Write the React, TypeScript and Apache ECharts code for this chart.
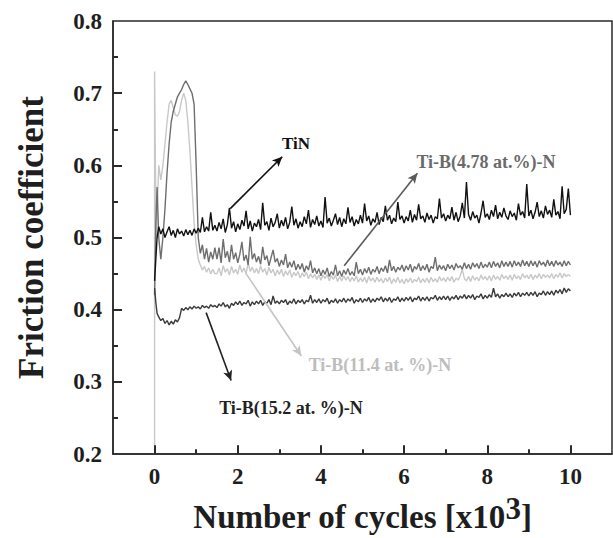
import React, { useEffect, useRef } from "react";
import * as echarts from "echarts";

// x values in units of 10^3 cycles
const EARLY_X = [0, 0.03, 0.06, 0.1, 0.15, 0.2, 0.25, 0.3, 0.35, 0.4, 0.45, 0.5, 0.55, 0.6, 0.65, 0.7, 0.75, 0.8, 0.85, 0.9, 0.95, 1.0, 1.05, 1.1, 1.15, 1.2, 1.25, 1.3, 1.35, 1.4, 1.45];
const TAIL_X = [
  1.5, 1.55, 1.6, 1.65, 1.7, 1.75, 1.8, 1.85, 1.9, 1.95,
  2.0, 2.05, 2.1, 2.15, 2.2, 2.25, 2.3, 2.35, 2.4, 2.45,
  2.5, 2.55, 2.6, 2.65, 2.7, 2.75, 2.8, 2.85, 2.9, 2.95,
  3.0, 3.05, 3.1, 3.15, 3.2, 3.25, 3.3, 3.35, 3.4, 3.45,
  3.5, 3.55, 3.6, 3.65, 3.7, 3.75, 3.8, 3.85, 3.9, 3.95,
  4.0, 4.05, 4.1, 4.15, 4.2, 4.25, 4.3, 4.35, 4.4, 4.45,
  4.5, 4.55, 4.6, 4.65, 4.7, 4.75, 4.8, 4.85, 4.9, 4.95,
  5.0, 5.05, 5.1, 5.15, 5.2, 5.25, 5.3, 5.35, 5.4, 5.45,
  5.5, 5.55, 5.6, 5.65, 5.7, 5.75, 5.8, 5.85, 5.9, 5.95,
  6.0, 6.05, 6.1, 6.15, 6.2, 6.25, 6.3, 6.35, 6.4, 6.45,
  6.5, 6.55, 6.6, 6.65, 6.7, 6.75, 6.8, 6.85, 6.9, 6.95,
  7.0, 7.05, 7.1, 7.15, 7.2, 7.25, 7.3, 7.35, 7.4, 7.45,
  7.5, 7.55, 7.6, 7.65, 7.7, 7.75, 7.8, 7.85, 7.9, 7.95,
  8.0, 8.05, 8.1, 8.15, 8.2, 8.25, 8.3, 8.35, 8.4, 8.45,
  8.5, 8.55, 8.6, 8.65, 8.7, 8.75, 8.8, 8.85, 8.9, 8.95,
  9.0, 9.05, 9.1, 9.15, 9.2, 9.25, 9.3, 9.35, 9.4, 9.45,
  9.5, 9.55, 9.6, 9.65, 9.7, 9.75, 9.8, 9.85, 9.9, 9.95,
  10.0,
];

// TiN
const TIN_EARLY = [0.44, 0.47, 0.5, 0.515, 0.505, 0.512, 0.5, 0.508, 0.515, 0.503, 0.51, 0.5, 0.512, 0.505, 0.509, 0.502, 0.511, 0.504, 0.51, 0.503, 0.512, 0.506, 0.513, 0.507, 0.528, 0.508, 0.515, 0.509, 0.535, 0.51, 0.517];
const TIN_TAIL = [
  0.509, 0.521, 0.512, 0.526, 0.507, 0.518, 0.541, 0.513, 0.522, 0.508,
  0.519, 0.511, 0.524, 0.516, 0.537, 0.512, 0.523, 0.509, 0.52, 0.515,
  0.525, 0.511, 0.548, 0.517, 0.522, 0.51, 0.527, 0.515, 0.521, 0.533,
  0.513, 0.524, 0.516, 0.528, 0.512, 0.521, 0.543, 0.517, 0.526, 0.513,
  0.522, 0.515, 0.529, 0.519, 0.538, 0.514, 0.525, 0.518, 0.53, 0.516,
  0.523, 0.514, 0.556, 0.52, 0.527, 0.516, 0.524, 0.533, 0.518, 0.528,
  0.515, 0.526, 0.519, 0.542, 0.521, 0.529, 0.516, 0.525, 0.519, 0.531,
  0.52, 0.547, 0.523, 0.53, 0.517, 0.526, 0.521, 0.535, 0.518, 0.528,
  0.522, 0.544, 0.524, 0.531, 0.519, 0.527, 0.522, 0.549, 0.525, 0.53,
  0.52, 0.529, 0.523, 0.538, 0.521, 0.532, 0.524, 0.546, 0.526, 0.53,
  0.521, 0.534, 0.525, 0.531, 0.52, 0.529, 0.526, 0.554, 0.527, 0.533,
  0.523, 0.531, 0.526, 0.542, 0.524, 0.535, 0.522, 0.53, 0.548, 0.527,
  0.577, 0.532, 0.524, 0.536, 0.527, 0.531, 0.52, 0.534, 0.551, 0.528,
  0.533, 0.525, 0.538, 0.529, 0.545, 0.526, 0.535, 0.528, 0.541, 0.53,
  0.525, 0.537, 0.529, 0.534, 0.524, 0.547, 0.531, 0.536, 0.527, 0.574,
  0.53, 0.538, 0.526, 0.535, 0.549, 0.529, 0.537, 0.527, 0.544, 0.532,
  0.538, 0.528, 0.553, 0.531, 0.536, 0.526, 0.571, 0.533, 0.539, 0.568,
  0.531,
];

// Ti-B(4.78 at.%)-N
const B478_EARLY = [0.42, 0.52, 0.57, 0.5, 0.47, 0.5, 0.54, 0.59, 0.63, 0.66, 0.675, 0.685, 0.695, 0.7, 0.705, 0.712, 0.717, 0.712, 0.706, 0.7, 0.685, 0.6, 0.5, 0.478, 0.49, 0.47, 0.485, 0.466, 0.48, 0.47, 0.486];
const B478_TAIL = [
  0.47, 0.486, 0.465, 0.498, 0.472, 0.481, 0.466, 0.49, 0.47, 0.479,
  0.465, 0.477, 0.494, 0.468, 0.476, 0.462, 0.501, 0.47, 0.478, 0.466,
  0.474, 0.463, 0.487, 0.469, 0.475, 0.461, 0.472, 0.483, 0.466, 0.471,
  0.46, 0.469, 0.462, 0.477, 0.458, 0.466, 0.459, 0.468, 0.455, 0.463,
  0.456, 0.464, 0.452, 0.461, 0.455, 0.468, 0.451, 0.458, 0.45, 0.457,
  0.447, 0.455, 0.449, 0.458, 0.446, 0.453, 0.448, 0.462, 0.447, 0.454,
  0.446, 0.455, 0.449, 0.457, 0.448, 0.453, 0.447, 0.466, 0.45, 0.456,
  0.448, 0.457, 0.451, 0.459, 0.449, 0.456, 0.452, 0.46, 0.45, 0.458,
  0.453, 0.461, 0.451, 0.469, 0.454, 0.46, 0.452, 0.459, 0.455, 0.462,
  0.453, 0.461, 0.455, 0.463, 0.452, 0.46, 0.456, 0.464, 0.454, 0.461,
  0.455, 0.463, 0.452, 0.46, 0.457, 0.473, 0.454, 0.462, 0.456, 0.461,
  0.454, 0.463, 0.457, 0.462, 0.455, 0.464, 0.458, 0.461, 0.456, 0.465,
  0.457, 0.463, 0.456, 0.465, 0.459, 0.464, 0.457, 0.466, 0.458, 0.463,
  0.459, 0.466, 0.458, 0.467, 0.46, 0.465, 0.458, 0.468, 0.46, 0.466,
  0.46, 0.467, 0.459, 0.468, 0.461, 0.466, 0.46, 0.469, 0.461, 0.467,
  0.46, 0.468, 0.461, 0.467, 0.459, 0.468, 0.462, 0.466, 0.46, 0.469,
  0.461, 0.467, 0.46, 0.468, 0.462, 0.466, 0.46, 0.468, 0.461, 0.467,
  0.462,
];

// Ti-B(11.4 at. %)-N
const B114_EARLY_X = [0, 0, 0.02, 0.04, 0.07, 0.1, 0.15, 0.2, 0.25, 0.3, 0.35, 0.4, 0.45, 0.5, 0.55, 0.6, 0.65, 0.7, 0.75, 0.8, 0.85, 0.9, 0.95, 1.0, 1.05, 1.1, 1.15, 1.2, 1.25, 1.3, 1.35, 1.4, 1.45];
const B114_EARLY = [0.2, 0.73, 0.6, 0.5, 0.55, 0.6, 0.58, 0.6, 0.63, 0.66, 0.685, 0.69, 0.68, 0.67, 0.668, 0.675, 0.69, 0.7, 0.69, 0.66, 0.62, 0.57, 0.52, 0.49, 0.47, 0.462, 0.455, 0.46, 0.452, 0.458, 0.45, 0.456, 0.45];
const B114_TAIL = [
  0.45, 0.458, 0.447, 0.461, 0.452, 0.457, 0.448, 0.46, 0.451, 0.456,
  0.449, 0.462, 0.452, 0.458, 0.45, 0.465, 0.453, 0.459, 0.451, 0.457,
  0.45, 0.461, 0.452, 0.457, 0.448, 0.459, 0.451, 0.456, 0.447, 0.455,
  0.449, 0.456, 0.446, 0.454, 0.448, 0.455, 0.445, 0.452, 0.447, 0.453,
  0.444, 0.451, 0.446, 0.452, 0.443, 0.45, 0.444, 0.449, 0.442, 0.448,
  0.441, 0.448, 0.443, 0.449, 0.44, 0.447, 0.442, 0.448, 0.439, 0.446,
  0.44, 0.447, 0.441, 0.446, 0.439, 0.445, 0.44, 0.447, 0.438, 0.444,
  0.439, 0.445, 0.437, 0.446, 0.44, 0.444, 0.438, 0.445, 0.439, 0.443,
  0.437, 0.444, 0.439, 0.445, 0.436, 0.443, 0.438, 0.445, 0.437, 0.442,
  0.436, 0.443, 0.438, 0.444, 0.437, 0.442, 0.439, 0.445, 0.437, 0.443,
  0.438, 0.444, 0.437, 0.445, 0.439, 0.443, 0.438, 0.446, 0.44, 0.444,
  0.439, 0.445, 0.44, 0.446, 0.438, 0.444, 0.441, 0.447, 0.456, 0.443,
  0.44, 0.446, 0.439, 0.447, 0.441, 0.445, 0.44, 0.448, 0.442, 0.446,
  0.441, 0.447, 0.44, 0.448, 0.442, 0.446, 0.441, 0.449, 0.443, 0.447,
  0.442, 0.448, 0.441, 0.449, 0.443, 0.447, 0.442, 0.45, 0.444, 0.448,
  0.443, 0.449, 0.442, 0.448, 0.444, 0.45, 0.443, 0.449, 0.445, 0.448,
  0.444, 0.45, 0.443, 0.449, 0.445, 0.451, 0.444, 0.45, 0.446, 0.449,
  0.446,
];

// Ti-B(15.2 at. %)-N
const B152_EARLY = [0.43, 0.41, 0.395, 0.39, 0.385, 0.388, 0.381, 0.385, 0.379, 0.384, 0.38, 0.386, 0.383, 0.389, 0.402, 0.399, 0.403, 0.4, 0.404, 0.401, 0.405, 0.402, 0.404, 0.401, 0.406, 0.403, 0.405, 0.402, 0.407, 0.404, 0.406];
const B152_TAIL = [
  0.403, 0.408, 0.405, 0.41, 0.404, 0.407, 0.402, 0.409, 0.406, 0.411,
  0.407, 0.412, 0.406, 0.41, 0.408, 0.413, 0.405, 0.411, 0.407, 0.412,
  0.408, 0.413, 0.406, 0.411, 0.409, 0.414, 0.407, 0.419, 0.409, 0.412,
  0.408, 0.413, 0.41, 0.414, 0.407, 0.412, 0.409, 0.415, 0.408, 0.413,
  0.41, 0.414, 0.408, 0.413, 0.411, 0.42, 0.409, 0.414, 0.41, 0.415,
  0.409, 0.414, 0.411, 0.416, 0.408, 0.413, 0.41, 0.415, 0.409, 0.414,
  0.411, 0.416, 0.41, 0.415, 0.412, 0.417, 0.409, 0.414, 0.411, 0.416,
  0.41, 0.415, 0.412, 0.417, 0.41, 0.415, 0.411, 0.416, 0.413, 0.418,
  0.411, 0.416, 0.412, 0.417, 0.41, 0.415, 0.413, 0.418, 0.411, 0.416,
  0.412, 0.417, 0.413, 0.418, 0.411, 0.416, 0.414, 0.419, 0.412, 0.417,
  0.413, 0.418, 0.412, 0.417, 0.415, 0.42, 0.413, 0.418, 0.414, 0.419,
  0.414, 0.419, 0.413, 0.418, 0.415, 0.42, 0.414, 0.419, 0.416, 0.421,
  0.415, 0.42, 0.416, 0.421, 0.414, 0.419, 0.417, 0.422, 0.415, 0.42,
  0.416, 0.421, 0.417, 0.43, 0.418, 0.422, 0.416, 0.421, 0.418, 0.423,
  0.418, 0.422, 0.417, 0.423, 0.419, 0.424, 0.418, 0.423, 0.42, 0.424,
  0.419, 0.424, 0.42, 0.425, 0.418, 0.423, 0.421, 0.426, 0.42, 0.425,
  0.421, 0.426, 0.42, 0.427, 0.423, 0.428, 0.422, 0.43, 0.424, 0.429,
  0.426,
];

const X_MIN = -1;
const X_MAX = 11;
const Y_MIN = 0.2;
const Y_MAX = 0.8;
const X_TICKS = [0, 2, 4, 6, 8, 10];
const X_MINOR_TICKS = [1, 3, 5, 7, 9];
const Y_TICKS = [0.3, 0.4, 0.5, 0.6, 0.7];
const Y_MINOR_TICKS = [0.25, 0.35, 0.45, 0.55, 0.65, 0.75];

const SERIES_NAMES = ["TiN", "Ti-B(4.78 at.%)-N", "Ti-B(11.4 at. %)-N", "Ti-B(15.2 at. %)-N"];

const pairs = (xs: number[], ys: number[]) => xs.map((x, i) => [x, ys[i]]);

const FONT = '"Liberation Serif", "Times New Roman", serif';

const GRID = { left: 113, top: 21, width: 499, height: 441 };

export default function App() {
  const ref = useRef<HTMLDivElement>(null);
  useEffect(() => {
    if (!ref.current) return;
    const chart = echarts.init(ref.current, null, { renderer: "svg" });
    const axisColor = "#2a2a2a";

    // tick lengths (px) converted to data units of the fixed grid
    const dxPerPx = (X_MAX - X_MIN) / GRID.width;
    const dyPerPx = (Y_MAX - Y_MIN) / GRID.height;
    const tickStyle = { color: axisColor, width: 2, type: "solid" };
    const tickItem = (from: number[], to: number[]) => [
      { coord: from, symbol: "none", lineStyle: tickStyle },
      { coord: to, symbol: "none", lineStyle: tickStyle },
    ];
    const tickLines = [
      ...X_TICKS.map((v) => tickItem([v, Y_MIN], [v, Y_MIN + 9 * dyPerPx])),
      ...X_MINOR_TICKS.map((v) => tickItem([v, Y_MIN], [v, Y_MIN + 5 * dyPerPx])),
      ...Y_TICKS.map((v) => tickItem([X_MIN, v], [X_MIN + 9 * dxPerPx, v])),
      ...Y_MINOR_TICKS.map((v) => tickItem([X_MIN, v], [X_MIN + 5 * dxPerPx, v])),
    ];

    const arrowLine = (color: string, from: number[], to: number[], extra: any[] = []) => ({
      silent: true,
      symbol: ["none", "arrow"],
      symbolSize: [7, 10],
      label: { show: false },
      lineStyle: { color, width: 1.6, type: "solid" },
      emphasis: { disabled: true },
      data: [[{ coord: from }, { coord: to }], ...extra],
    });

    const labelStyle = (text: string, fill: string, size: number) => ({
      text,
      fontFamily: FONT,
      fontWeight: "bold",
      fontSize: size,
      fill,
      align: "center",
      verticalAlign: "middle",
    });

    chart.setOption({
      animation: false,
      backgroundColor: "#ffffff",
      grid: {
        ...GRID,
        show: true,
        borderColor: axisColor,
        borderWidth: 1.5,
        backgroundColor: "transparent",
      },
      xAxis: {
        type: "value",
        min: X_MIN,
        max: X_MAX,
        position: "bottom",
        axisLine: { show: true, onZero: false, lineStyle: { color: axisColor, width: 1.5 } },
        axisTick: { show: false },
        axisLabel: {
          customValues: X_TICKS,
          margin: 11,
          fontFamily: FONT,
          fontWeight: "bold",
          fontSize: 23,
          color: "#1e1e1e",
        },
        splitLine: { show: false },
        name: "{a|Number of cycles [x10}{s|3}{a|]}",
        nameLocation: "middle",
        nameGap: 36,
        nameTextStyle: {
          rich: {
            a: { fontFamily: FONT, fontWeight: "bold", fontSize: 33, color: "#1e1e1e", lineHeight: 40, verticalAlign: "bottom" },
            s: { fontFamily: FONT, fontWeight: "bold", fontSize: 31, color: "#1e1e1e", lineHeight: 24, verticalAlign: "top" },
          },
        },
      },
      yAxis: {
        type: "value",
        min: Y_MIN,
        max: Y_MAX,
        interval: 0.1,
        axisLine: { show: true, onZero: false, lineStyle: { color: axisColor, width: 1.5 } },
        axisTick: { show: false },
        axisLabel: {
          formatter: (v: number) => v.toFixed(1),
          margin: 11,
          fontFamily: FONT,
          fontWeight: "bold",
          fontSize: 23,
          color: "#1e1e1e",
        },
        splitLine: { show: false },
        name: "Friction coefficient",
        nameLocation: "middle",
        nameGap: 64,
        nameRotate: 90,
        nameTextStyle: { fontFamily: FONT, fontWeight: "bold", fontSize: 35, color: "#1e1e1e" },
      },
      series: [
        {
          name: SERIES_NAMES[2],
          type: "line",
          showSymbol: false,
          data: pairs(B114_EARLY_X.concat(TAIL_X), B114_EARLY.concat(B114_TAIL)),
          lineStyle: { color: "#c8c8c8", width: 1.4 },
          itemStyle: { color: "#c8c8c8" },
          markLine: arrowLine("#c4c4c4", [2.2, 0.45], [3.53, 0.336]),
        },
        {
          name: SERIES_NAMES[1],
          type: "line",
          showSymbol: false,
          data: pairs(EARLY_X.concat(TAIL_X), B478_EARLY.concat(B478_TAIL)),
          lineStyle: { color: "#6e6e6e", width: 1.4 },
          itemStyle: { color: "#6e6e6e" },
          markLine: arrowLine("#5a5a5a", [4.56, 0.461], [6.32, 0.589]),
        },
        {
          name: SERIES_NAMES[3],
          type: "line",
          showSymbol: false,
          data: pairs(EARLY_X.concat(TAIL_X), B152_EARLY.concat(B152_TAIL)),
          lineStyle: { color: "#3a3a3a", width: 1.4 },
          itemStyle: { color: "#3a3a3a" },
          markLine: arrowLine("#222", [1.24, 0.396], [1.84, 0.302]),
        },
        {
          name: SERIES_NAMES[0],
          type: "line",
          showSymbol: false,
          z: 3,
          data: pairs(EARLY_X.concat(TAIL_X), TIN_EARLY.concat(TIN_TAIL)),
          lineStyle: { color: "#111", width: 1.4 },
          itemStyle: { color: "#111" },
          markLine: arrowLine("#111", [1.82, 0.54], [3.07, 0.612], tickLines),
        },
      ],
      graphic: [
        { type: "text", x: 296, y: 143, style: labelStyle(SERIES_NAMES[0], "#111", 17) },
        { type: "text", x: 486, y: 162, style: labelStyle(SERIES_NAMES[1], "#6a6a6a", 18) },
        { type: "text", x: 380, y: 365, style: labelStyle(SERIES_NAMES[2], "#bdbdbd", 18) },
        { type: "text", x: 291, y: 408, style: labelStyle(SERIES_NAMES[3], "#222", 18) },
      ],
    });
    return () => chart.dispose();
  }, []);
  return (
    <div
      ref={ref}
      style={{ position: "absolute", left: 0, top: 0, width: 613, height: 538, background: "#fff" }}
    />
  );
}
